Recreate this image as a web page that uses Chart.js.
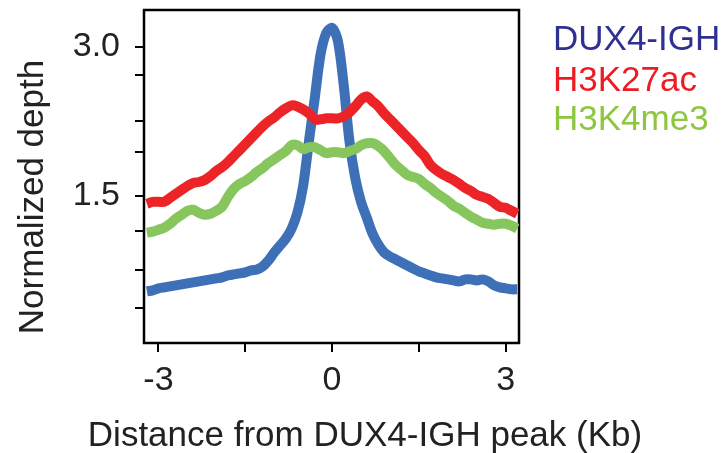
<!DOCTYPE html>
<html>
<head>
<meta charset="utf-8">
<script src="https://cdn.jsdelivr.net/npm/chart.js@4"></script>
<style>
  html, body { margin: 0; padding: 0; background: #fff; }
  #wrap { width: 725px; height: 453px; }
</style>
</head>
<body>
<div id="wrap"><canvas id="profileChart" width="725" height="453"></canvas></div>
<script>
// distance from the DUX4-IGH peak, in Kb
const positions = [
  -3.2, -3.1, -3.0, -2.9, -2.8, -2.7, -2.6, -2.5, -2.4, -2.3, -2.2, -2.1, -2.0,
  -1.9, -1.8, -1.7, -1.6, -1.5, -1.4, -1.3, -1.2, -1.1, -1.0, -0.9, -0.8, -0.7,
  -0.6, -0.5, -0.4, -0.3, -0.2, -0.1, 0.0, 0.1, 0.2, 0.3, 0.4, 0.5, 0.6, 0.7,
  0.8, 0.9, 1.0, 1.1, 1.2, 1.3, 1.4, 1.5, 1.6, 1.7, 1.8, 1.9, 2.0, 2.1, 2.2,
  2.3, 2.4, 2.5, 2.6, 2.7, 2.8, 2.9, 3.0, 3.1, 3.2
];

// normalized depth per track
const dux4igh = [
  0.54, 0.55, 0.57, 0.58, 0.59, 0.60, 0.61, 0.62, 0.63, 0.64, 0.65, 0.66, 0.67,
  0.68, 0.70, 0.71, 0.72, 0.73, 0.75, 0.76, 0.79, 0.85, 0.93, 1.00, 1.07, 1.17,
  1.33, 1.60, 2.05, 2.48, 2.92, 3.14, 3.19, 3.06, 2.62, 2.05, 1.68, 1.44, 1.28, 1.12,
  1.01, 0.93, 0.89, 0.86, 0.83, 0.80, 0.77, 0.74, 0.72, 0.70, 0.68, 0.67, 0.66, 0.65, 0.64,
  0.66, 0.66, 0.65, 0.66, 0.64, 0.60, 0.58, 0.57, 0.56, 0.56
];
const h3k27ac = [
  1.42, 1.44, 1.44, 1.44, 1.48, 1.52, 1.56, 1.60, 1.63, 1.64, 1.66, 1.70, 1.75,
  1.79, 1.84, 1.90, 1.96, 2.02, 2.08, 2.14, 2.20, 2.25, 2.29, 2.34, 2.38, 2.41,
  2.40, 2.37, 2.33, 2.27, 2.27, 2.28, 2.28, 2.28, 2.30, 2.34, 2.40, 2.47, 2.50, 2.45,
  2.40, 2.33, 2.27, 2.21, 2.15, 2.09, 2.03, 1.96, 1.90, 1.81, 1.76, 1.72, 1.69, 1.66, 1.62,
  1.58, 1.55, 1.51, 1.49, 1.47, 1.43, 1.39, 1.38, 1.35, 1.32
];
const h3k4me3 = [
  1.13, 1.14, 1.16, 1.18, 1.22, 1.27, 1.31, 1.35, 1.36, 1.33, 1.31, 1.32, 1.35,
  1.39, 1.49, 1.57, 1.62, 1.65, 1.69, 1.74, 1.78, 1.83, 1.87, 1.91, 1.95, 2.01,
  2.01, 1.97, 1.99, 1.99, 1.96, 1.93, 1.94, 1.94, 1.93, 1.95, 1.97, 2.01, 2.03, 2.03,
  2.00, 1.95, 1.88, 1.81, 1.76, 1.71, 1.69, 1.67, 1.62, 1.58, 1.53, 1.49, 1.45, 1.40, 1.37,
  1.33, 1.29, 1.26, 1.23, 1.22, 1.21, 1.22, 1.22, 1.20, 1.17
];

const seriesNames = ['DUX4-IGH', 'H3K27ac', 'H3K4me3'];
const lineColors = ['#3e70b8', '#ed2427', '#87c65c'];
const legendColors = ['#2e3192', '#ed1c24', '#8dc63f'];

const xTickValues = [-3, -1.5, 0, 1.5, 3];
const xTickLabels = ['-3', '', '0', '', '3'];
const yTickValues = [3.0, 2.72, 2.25, 1.94, 1.5, 1.15, 0.75, 0.37];
const yTickLabels = ['3.0', '', '', '', '1.5', '', '', ''];

const xTitle = 'Distance from DUX4-IGH peak (Kb)';
const yTitle = 'Normalized depth';

const FONT = "'Liberation Sans', Arial, Helvetica, sans-serif";

// frame, axis titles and the coloured text legend
const decorations = {
  id: 'decorations',
  beforeDatasetsDraw(chart) {
    const { ctx, chartArea: a } = chart;
    ctx.save();
    ctx.strokeStyle = '#000';
    ctx.lineWidth = 2.5;
    ctx.strokeRect(a.left, a.top, a.right - a.left, a.bottom - a.top);
    ctx.restore();
  },
  afterDraw(chart) {
    const { ctx } = chart;
    ctx.save();
    ctx.fillStyle = '#222';
    ctx.font = '35px ' + FONT;
    ctx.textAlign = 'center';
    ctx.textBaseline = 'alphabetic';
    ctx.fillText(xTitle, 365, 446);

    ctx.translate(43, 197);
    ctx.rotate(-Math.PI / 2);
    ctx.fillText(yTitle, 0, 0);
    ctx.restore();

    ctx.save();
    ctx.font = '35px ' + FONT;
    ctx.textAlign = 'left';
    ctx.textBaseline = 'alphabetic';
    const rows = [50, 90.5, 130];
    seriesNames.forEach((name, i) => {
      ctx.fillStyle = legendColors[i];
      ctx.fillText(name, 553, rows[i]);
    });
    ctx.restore();
  }
};

const tracks = [dux4igh, h3k27ac, h3k4me3];

// axes keep a fixed size; drop the edge padding chart.js adds for end labels
function fixX(axis) {
  axis.height = 110;
  axis.paddingLeft = 0;
  axis.paddingRight = 0;
}
function fixY(axis) {
  axis.width = 144;
  axis.paddingTop = 0;
  axis.paddingBottom = 0;
}

const chart = new Chart(document.getElementById('profileChart'), {
  type: 'line',
  data: {
    labels: positions,
    datasets: tracks.map((vals, i) => ({
      label: seriesNames[i],
      data: positions.map((x, j) => ({ x, y: vals[j] })),
      borderColor: lineColors[i],
      borderWidth: 10,
      pointRadius: 0,
      tension: 0.3,
      fill: false,
      borderJoinStyle: 'round',
      order: i === 0 ? 3 : 3 - i
    }))
  },
  options: {
    responsive: false,
    animation: false,
    devicePixelRatio: 1,
    layout: { padding: { left: 0, right: 206, top: 10, bottom: 0 } },
    plugins: {
      legend: { display: false },
      tooltip: { enabled: false }
    },
    scales: {
      x: {
        type: 'linear',
        min: -3.25,
        max: 3.23,
        afterBuildTicks: axis => { axis.ticks = xTickValues.map(v => ({ value: v })); },
        afterFit: fixX,
        ticks: {
          autoSkip: false,
          maxRotation: 0,
          padding: 8,
          color: '#222',
          font: { family: FONT, size: 34 },
          callback: (v, i) => xTickLabels[i]
        },
        grid: {
          drawOnChartArea: false,
          drawTicks: true,
          tickLength: 9,
          lineWidth: 2,
          color: '#000'
        },
        border: { display: false }
      },
      y: {
        type: 'linear',
        min: 0.02,
        max: 3.37,
        afterBuildTicks: axis => { axis.ticks = yTickValues.map(v => ({ value: v })); },
        afterFit: fixY,
        ticks: {
          autoSkip: false,
          padding: 15,
          color: '#222',
          font: { family: FONT, size: 34 },
          callback: (v, i) => yTickLabels[i]
        },
        grid: {
          drawOnChartArea: false,
          drawTicks: true,
          tickLength: 9,
          lineWidth: 2,
          color: '#000'
        },
        border: { display: false }
      }
    }
  },
  plugins: [decorations]
});
</script>
</body>
</html>
